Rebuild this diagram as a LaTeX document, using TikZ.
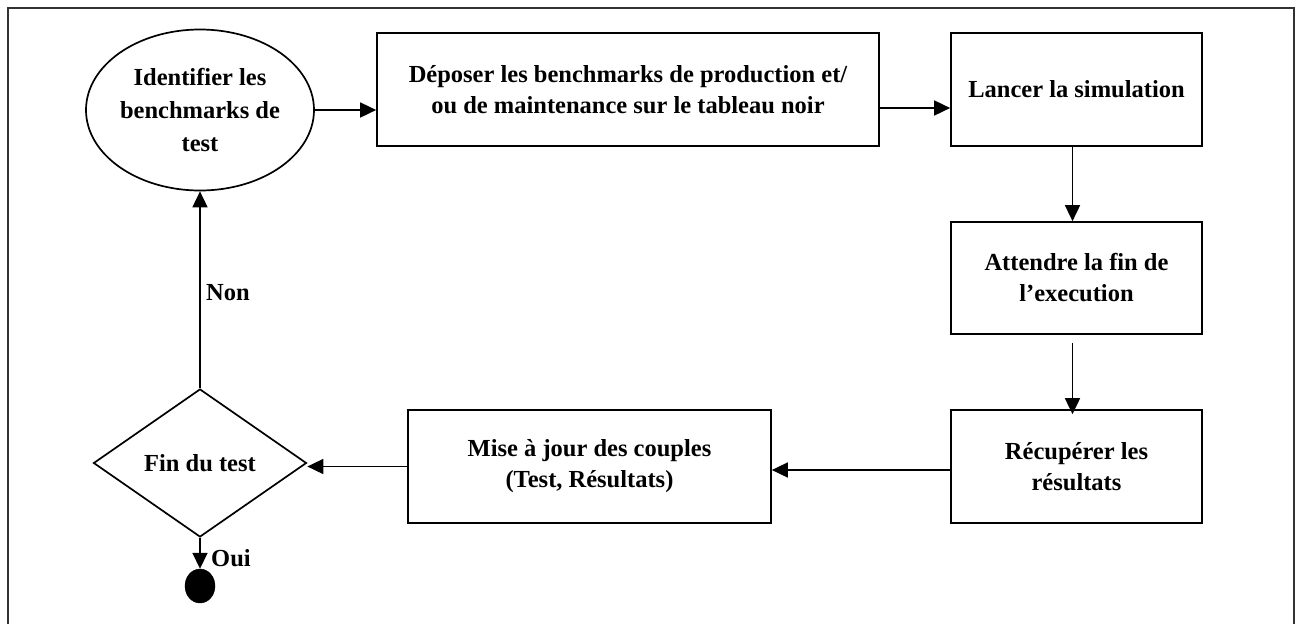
\documentclass[tikz,border=0pt]{standalone}
\usepackage{fontspec}
\setmainfont{Liberation Serif}
\usetikzlibrary{shapes.geometric,arrows.meta}
\tikzset{
  base/.style={draw, line width=1.7pt, inner sep=0pt, align=center,
    font=\bfseries\fontsize{24.5}{31}\selectfont},
  boxnode/.style={base, rectangle},
  ellnode/.style={base, ellipse},
  decnode/.style={base, diamond},
  arr/.style={line width=1.7pt, -{Triangle[length=16pt,width=15pt]}},
  lbl/.style={inner sep=0pt, anchor=west, font=\bfseries\fontsize{24.5}{31}\selectfont}
}
\begin{document}
\begin{tikzpicture}[x=1pt,y=-1pt]
\useasboundingbox (0,0) rectangle (1300,624);
\draw[line width=1.8pt, black!80] (8,624) -- (8,8) -- (1294,8) -- (1294,624);

\node[ellnode, minimum width=228pt, minimum height=161pt,
      font=\bfseries\fontsize{24.5}{33}\selectfont] (ell) at (200,110)
  {Identifier les\\benchmarks de\\test};
\node[boxnode, minimum width=502pt, minimum height=113pt] (box1) at (628,89.5)
  {Déposer les benchmarks de production et/\\ou de maintenance sur le tableau noir};
\node[boxnode, minimum width=251pt, minimum height=113pt] (box2) at (1076.5,89.5)
  {Lancer la simulation};
\node[boxnode, minimum width=251pt, minimum height=112pt] (box3) at (1076.5,278)
  {Attendre la fin de\\l’execution};
\node[boxnode, minimum width=251pt, minimum height=113pt] (box4) at (1076.5,466.5)
  {Récupérer les\\résultats};
\node[boxnode, minimum width=363pt, minimum height=113pt] (box5) at (589.5,466.5)
  {Mise à jour des couples\\(Test, Résultats)};
\node[decnode, minimum width=213pt, minimum height=148pt] (dec) at (200,463)
  {Fin du test};
\node[draw, fill=black, ellipse, minimum width=30pt, minimum height=34pt, inner sep=0pt] (fin) at (200,586) {};

\node[lbl] (non) at (206,293) {Non};
\node[lbl] (oui) at (211,558) {Oui};

\draw[arr] (ell.east) -- (ell.east -| box1.west);
\draw[arr] ([yshift=-18.5pt]box1.east) -- ([yshift=-18.5pt]box2.west);
\draw[arr] ([xshift=-4pt]box2.south) -- ([xshift=-4pt]box3.north);
\draw[arr] ([xshift=-4pt,yshift=-8pt]box3.south) -- ([xshift=-4pt,yshift=-5pt]box4.north);
\draw[arr] ([yshift=-3.5pt]box4.west) -- ([yshift=-3.5pt]box5.east);
\draw[arr] (box5.west) -- (box5.west -| dec.east);
\draw[arr] (dec.north) -- (ell.south);
\draw[arr] (dec.south) -- (fin.north);
\end{tikzpicture}
\end{document}
